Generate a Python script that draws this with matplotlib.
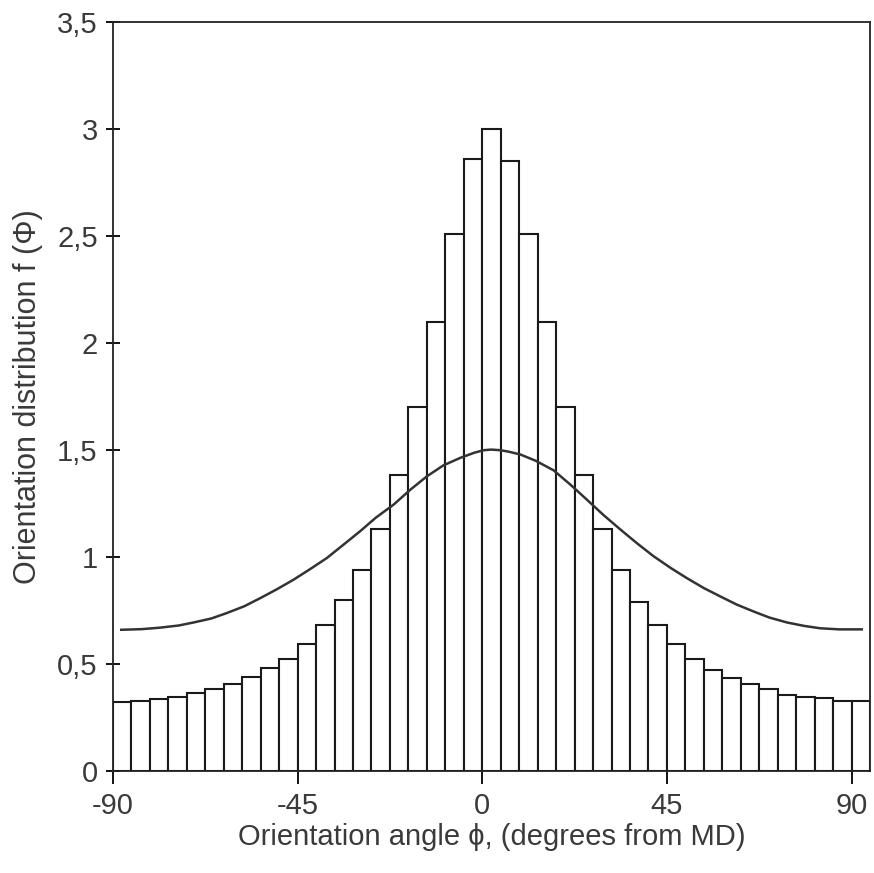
import numpy as np
import matplotlib
matplotlib.use("Agg")
import matplotlib.pyplot as plt
from matplotlib.ticker import FuncFormatter

plt.rcParams['font.family'] = ['Liberation Sans', 'DejaVu Sans']
plt.rcParams['axes.unicode_minus'] = False

# histogram: 41 bins of 4.5 degrees starting at -90
bin_width = 4.5
bin_left = -90 + bin_width * np.arange(41)
heights = [0.323, 0.329, 0.337, 0.348, 0.364, 0.382, 0.406, 0.441, 0.48, 0.523,
           0.594, 0.683, 0.797, 0.94, 1.13, 1.385, 1.70, 2.10, 2.51, 2.86,
           3.0,
           2.85, 2.51, 2.10, 1.70, 1.385, 1.13, 0.94, 0.79, 0.683, 0.594,
           0.523, 0.473, 0.435, 0.407, 0.383, 0.355, 0.348, 0.341, 0.329, 0.328]

# smooth curve
curve_x = [-88, -83, -78.5, -74, -70.4, -66, -62.3, -58, -54.1, -50, -46, -42,
           -37.9, -34, -29.8, -26, -21.6, -17.5, -13.5, -9.5, -5.4, -2, 0.3, 2.2,
           4.5, 6.5, 9.3, 13, 17.4, 21.5, 25.5, 29.5, 33.7, 37.8, 41.8, 46,
           49.9, 54, 58, 62, 66.2, 70, 74.3, 78.5, 82.4, 87, 92.5]
curve_y = [0.66, 0.663, 0.67, 0.68, 0.694, 0.713, 0.738, 0.77, 0.808, 0.85, 0.894, 0.943,
           0.995, 1.055, 1.12, 1.183, 1.245, 1.315, 1.377, 1.428, 1.463, 1.487, 1.499, 1.502,
           1.499, 1.492, 1.479, 1.45, 1.405, 1.338, 1.268, 1.197, 1.128, 1.063, 1.003, 0.948,
           0.901, 0.855, 0.816, 0.778, 0.745, 0.717, 0.694, 0.678, 0.667, 0.662, 0.662]

fig = plt.figure(figsize=(8.74, 8.73), dpi=100)
ax = fig.add_axes([0.1293, 0.1168, 0.8661, 0.858])

ax.bar(bin_left, heights, width=bin_width, align='edge', color='white',
       edgecolor='#1a1a1a', linewidth=1.5)
ax.plot(curve_x, curve_y, color='#333333', linewidth=1.8)

ax.set_xlim(-90, 94.5)
ax.set_ylim(0, 3.5)
ax.set_xticks([-90, -45, 0, 45, 90])
ax.set_yticks(np.arange(0, 3.51, 0.5))
ax.yaxis.set_major_formatter(FuncFormatter(lambda v, p: ('%g' % v).replace('.', ',')))

for s in ax.spines.values():
    s.set_linewidth(1.3)
    s.set_color('#222222')

ax.tick_params(axis='y', direction='inout', length=10, width=1.3, labelsize=21,
               labelcolor='#3a3a3a', pad=6)
ax.tick_params(axis='x', direction='out', length=9, width=1.3, labelsize=21,
               labelcolor='#3a3a3a', pad=6)

ax.set_xlabel('Orientation angle \u03d5, (degrees from MD)', fontsize=21,
              color='#3a3a3a', labelpad=2)
ax.set_ylabel('Orientation distribution f (\u03a6)', fontsize=22,
              color='#3a3a3a', labelpad=10)

fig.savefig('out.png', dpi=100)
